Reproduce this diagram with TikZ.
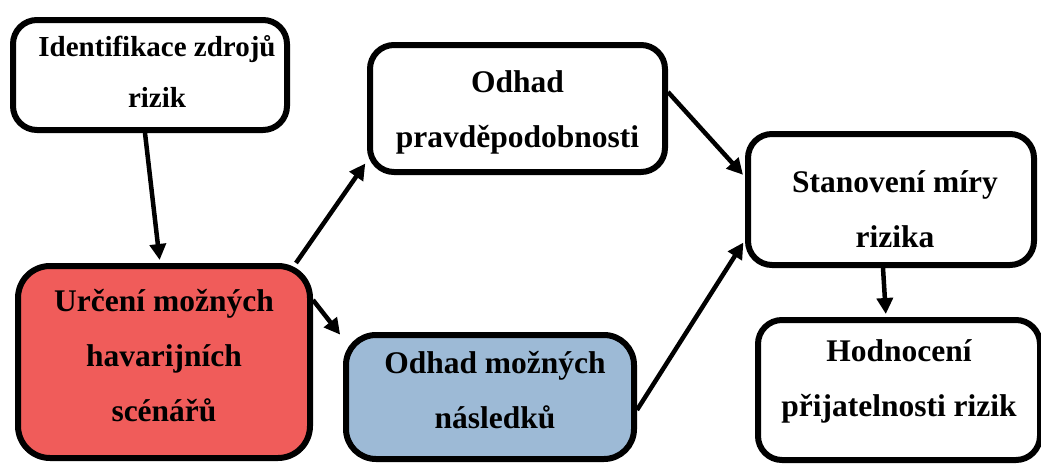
\documentclass[tikz,border=0pt]{standalone}
\usepackage{fontspec}
\setmainfont{Liberation Serif}
\usetikzlibrary{arrows.meta}
\definecolor{scenred}{HTML}{F05C5A}
\definecolor{conseqblue}{HTML}{9DBAD6}

\begin{document}
\begin{tikzpicture}[x=1pt,y=-1pt,
  box/.style={draw,line width=6pt,rounded corners=24pt,align=center,inner sep=0pt,
    font=\fontsize{31.5}{55}\selectfont\bfseries},
  arr/.style={line width=4.5pt,-{Triangle[length=16pt,width=16pt]},shorten >=3pt}]
\clip (0,0) rectangle (1041,463);

\node[box,minimum width=274pt,minimum height=110pt,text depth=8pt,font=\fontsize{29}{51}\selectfont\bfseries] (ident) at (150,75) {\hspace*{14pt}Identifikace zdrojů\\\hspace*{14pt}rizik};
\node[box,minimum width=295pt,minimum height=127pt,text height=84pt,text depth=7pt] (prob) at (517.5,108.5) {Odhad\\pravděpodobnosti};
\node[box,minimum width=286pt,minimum height=131pt,text height=95pt,text depth=0pt] (level) at (891,199.5) {\hspace*{8pt}Stanovení míry\\\hspace*{8pt}rizika};
\node[box,minimum width=282pt,minimum height=140pt,text depth=24pt] (accept) at (899,390) {Hodnocení\\přijatelnosti rizik};
\node[box,fill=scenred,rounded corners=32pt,minimum width=292pt,minimum height=192pt,text depth=14pt] (scen) at (164,362) {Určení možných\\havarijních\\scénářů};
\node[box,fill=conseqblue,rounded corners=30pt,minimum width=288pt,minimum height=124pt,text depth=14pt] (conseq) at (490,397) {\hspace*{10pt}Odhad možných\\\hspace*{10pt}následků};

\draw[arr] ([xshift=-5pt]ident.south) -- ([xshift=-4pt]scen.north);
\draw[arr] ([xshift=-17pt]scen.north east) -- ([yshift=14pt]prob.south west);
\draw[arr] ([yshift=-37pt]scen.north east) -- ([xshift=-1pt,yshift=-5pt]conseq.north west);
\draw[arr] ([yshift=16.5pt]prob.east) -- ([yshift=22.5pt]level.west);
\draw[arr] ([yshift=-13pt]conseq.east) -- ([yshift=-40.5pt]level.west);
\draw[arr] ([xshift=-8pt]level.south) -- ([xshift=-13pt]accept.north);
\end{tikzpicture}
\end{document}
